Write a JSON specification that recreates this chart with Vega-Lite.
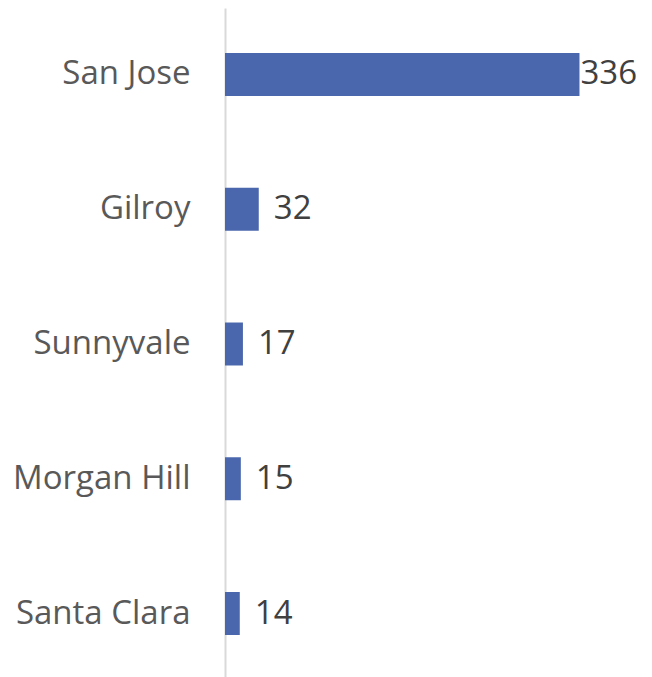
{
  "$schema": "https://vega.github.io/schema/vega-lite/v6.json",
  "autosize": "none",
  "padding": {"left": 225, "top": 8, "right": 0, "bottom": 0},
  "width": 422,
  "height": 672,
  "background": "white",
  "data": {"values": [
    {"city": "San Jose", "count": 336},
    {"city": "Gilroy", "count": 32},
    {"city": "Sunnyvale", "count": 17},
    {"city": "Morgan Hill", "count": 15},
    {"city": "Santa Clara", "count": 14}
  ]},
  "encoding": {
    "y": {"field": "city", "type": "nominal", "sort": null,
      "scale": {"paddingInner": 0.681, "paddingOuter": 0.334},
      "axis": {"title": null, "ticks": false, "labelPadding": 35, "labelFont": "Open Sans", "labelFontSize": 33, "labelColor": "#595959", "domainColor": "#d9d9d9", "domainWidth": 2, "labelLimit": 300}},
    "x": {"field": "count", "type": "quantitative", "scale": {"domain": [0, 400]}, "axis": null}
  },
  "config": {"view": {"stroke": null}},
  "layer": [
    {"mark": {"type": "bar", "color": "#4a66ac"}},
    {"transform": [{"filter": "datum.count < 300"}],
     "mark": {"type": "text", "align": "left", "baseline": "middle", "dx": 15, "font": "Open Sans", "fontSize": 33, "color": "#404040"},
     "encoding": {"text": {"field": "count", "type": "quantitative"}}},
    {"transform": [{"filter": "datum.count >= 300"}],
     "mark": {"type": "text", "align": "left", "baseline": "middle", "dx": 1, "font": "Open Sans", "fontSize": 33, "color": "#404040"},
     "encoding": {"text": {"field": "count", "type": "quantitative"}}}
  ]
}
